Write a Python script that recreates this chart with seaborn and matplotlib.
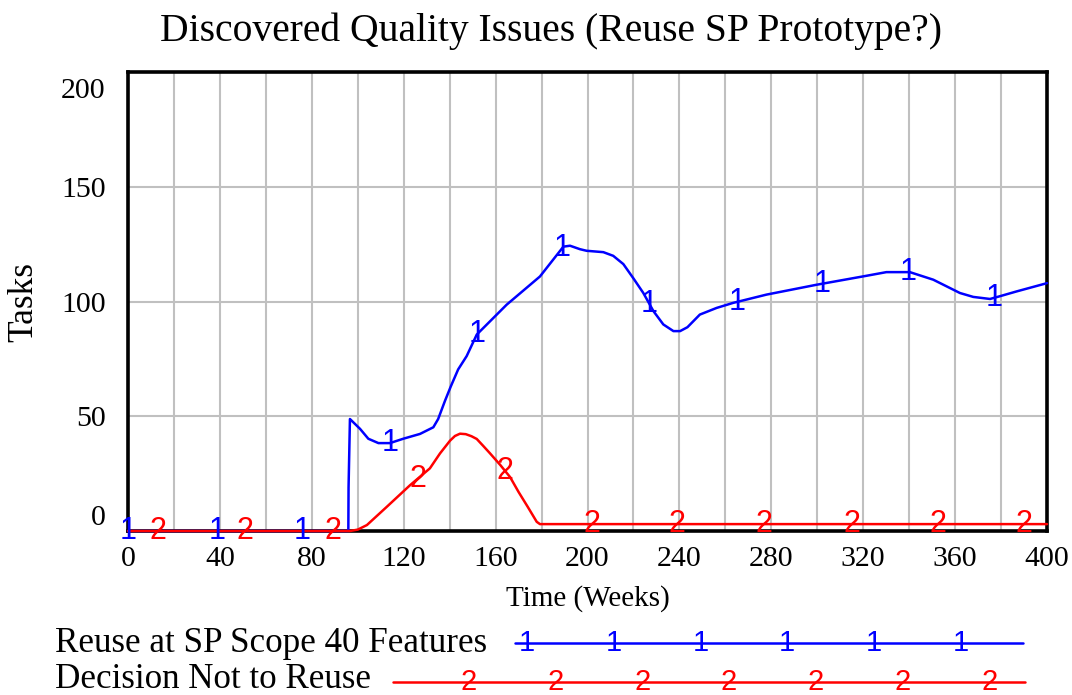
import numpy as np
import pandas as pd
import matplotlib
matplotlib.use("Agg")
import matplotlib.pyplot as plt
from matplotlib.transforms import offset_copy
import seaborn as sns

# ---------------- data ----------------
title = "Discovered Quality Issues (Reuse SP Prototype?)"
series_names = ["Reuse at SP Scope 40 Features", "Decision Not to Reuse"]
x_label = "Time (Weeks)"
y_label = "Tasks"
x_ticks = [0, 40, 80, 120, 160, 200, 240, 280, 320, 360, 400]
y_ticks = [0, 50, 100, 150, 200]

weeks_reuse = [0, 95.9, 96.0, 96.6, 101, 104.6, 109, 114, 119.8, 127.1, 132.9,
               135, 138, 140.5, 143.7, 147.4, 151.8, 164.8, 179.3, 189.5, 192.4,
               196.7, 199.6, 206.9, 211.2, 215.6, 219.9, 224.3, 228.7, 233.0,
               237.4, 240.3, 243.5, 248.9, 256.2, 263.4, 277.9, 299.7, 321.4,
               330.1, 340.3, 350.5, 362.1, 367.9, 375.2, 379.5, 386.8, 400]
tasks_reuse = [0, 0, 19, 48.8, 44.5, 40.2, 38.3, 38.3, 40.2, 42.3, 45.2,
               48.8, 56.8, 63, 70.4, 76.2, 85.6, 98.6, 110.9, 123.9, 124.3,
               122.8, 122.1, 121.5, 119.9, 116.3, 110.2, 103.7, 95.8, 90.0,
               87.1, 87.1, 88.8, 94.3, 97.2, 99.4, 103.0, 107.3, 111.2,
               112.8, 112.8, 109.5, 103.7, 102.0, 101.1, 102.3, 104.4, 108.0]

weeks_noreuse = [0, 96.6, 100, 104, 112.6, 122.7, 131.4, 135.8, 140.2, 142.3,
                 144.5, 147, 149.5, 151.8, 154.5, 157.6, 162, 166.3, 170, 174,
                 177.9, 179.3, 400]
tasks_noreuse = [0, 0, 0.6, 2.6, 10.5, 19.9, 27.3, 33.8, 39.4, 41.4,
                 42.4, 42.2, 41.3, 40.1, 37.2, 33.8, 28.8, 23.5, 17, 10.5,
                 4.0, 3.0, 3.0]

marker_weeks_reuse = [0, 39, 76, 114, 152, 189, 227, 265, 302, 339.5, 377]
marker_weeks_noreuse = [13, 51, 89, 126, 164, 202, 239, 277, 315, 352.5, 390]
marker_labels = ["1", "2"]

colors = ["#0000ff", "#ff0000"]

# ---------------- style ----------------
sns.set_theme(style="white")
plt.rcParams['font.family'] = ['Liberation Serif', 'DejaVu Serif']
serif = ['Liberation Serif', 'DejaVu Serif']
sans = ['Liberation Sans', 'DejaVu Sans']

W, H = 1072, 695
fig = plt.figure(figsize=(W / 100, H / 100), dpi=100)
fig.patch.set_facecolor("white")

ax = fig.add_axes([128 / W, 1 - 531 / H, (1047 - 128) / W, (531 - 72) / H])
ax.set_facecolor("white")

df = pd.concat([
    pd.DataFrame({"week": weeks_reuse, "tasks": tasks_reuse, "series": series_names[0]}),
    pd.DataFrame({"week": weeks_noreuse, "tasks": tasks_noreuse, "series": series_names[1]}),
], ignore_index=True)

sns.lineplot(data=df, x="week", y="tasks", hue="series", palette=colors,
             estimator=None, sort=False, legend=False, ax=ax,
             linewidth=1.8, clip_on=False, zorder=5)

# numbered markers along the curves
for wks, xs, ys, lab, col in [
    (marker_weeks_reuse, weeks_reuse, tasks_reuse, marker_labels[0], colors[0]),
    (marker_weeks_noreuse, weeks_noreuse, tasks_noreuse, marker_labels[1], colors[1]),
]:
    for w in wks:
        ax.text(w, np.interp(w, xs, ys), lab, color=col, family=sans,
                fontsize=22, ha="center", va="center", zorder=6, clip_on=False)

ax.set_xlim(0, 400)
ax.set_ylim(0, 200)
ax.set_xticks(x_ticks, labels=[str(v) for v in x_ticks])
ax.set_xticks(np.arange(0, 401, 20), minor=True)
ax.set_yticks(y_ticks, labels=[str(v) for v in y_ticks])
ax.tick_params(axis="both", which="both", length=0, labelsize=21.5, colors="black")
ax.tick_params(axis="x", pad=11)
ax.tick_params(axis="y", pad=16)
for t in ax.get_yticklabels():
    if t.get_text() == "200":
        t.set_va("top")
        t.set_transform(offset_copy(t.get_transform(), fig=fig, y=-6, units="dots"))
    elif t.get_text() == "0":
        t.set_va("bottom")

ax.grid(True, which="both", axis="x", color="#c0c0c0", linewidth=1.5)
ax.grid(True, which="major", axis="y", color="#c0c0c0", linewidth=1.5)
ax.set_axisbelow(True)
for s in ax.spines.values():
    s.set_visible(True)
    s.set_color("black")
    s.set_linewidth(2.6)
    s.set_zorder(4)

ax.set_xlabel(x_label, fontsize=21, color="black")
ax.xaxis.set_label_coords(0.5, -0.117)
ax.set_ylabel(y_label, fontsize=25.5, color="black")
ax.yaxis.set_label_coords(-0.095, 0.5)

fig.text(551 / W, 1 - 41 / H, title, ha="center", va="baseline",
         fontsize=28.5, color="black", family=serif)

# ---------------- legend (drawn in its own strip) ----------------
lax = fig.add_axes([0, 0, 1, 75 / H])
lax.set_xlim(0, 1)
lax.set_ylim(0, 1)
lax.axis("off")

legend_rows = [
    # name, color, label, line start, line end, first marker, n markers, text baseline, line y
    (series_names[0], colors[0], marker_labels[0], 515 / W, 1023 / W, 527 / W, 6, (695 - 652) / 75, (695 - 643) / 75),
    (series_names[1], colors[1], marker_labels[1], 393 / W, 1025 / W, 469 / W, 7, (695 - 688) / 75, (695 - 682) / 75),
]
step = 86.7 / W
for name, col, lab, x0, x1, m0, n, ty, ly in legend_rows:
    lax.text(55 / W, ty, name, ha="left", va="baseline", fontsize=25.2,
             color="black", family=serif)
    lax.plot([x0, x1], [ly, ly], color=col, linewidth=1.8, clip_on=False)
    for i in range(n):
        lax.text(m0 + i * step, ly, lab, color=col, family=sans, fontsize=21,
                 ha="center", va="center", clip_on=False)

fig.savefig("out.png", dpi=100, facecolor="white")
